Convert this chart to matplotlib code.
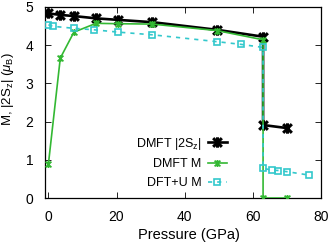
import matplotlib
matplotlib.use("Agg")
import matplotlib.pyplot as plt
from matplotlib.path import Path

plt.rcParams["font.family"] = ["Liberation Sans", "DejaVu Sans"]
plt.rcParams["mathtext.fontset"] = "custom"
plt.rcParams["mathtext.rm"] = "Liberation Sans"
plt.rcParams["mathtext.it"] = "Liberation Sans:italic"

# ── data ────────────────────────────────────────────────────────────────────
p_dmft   = [0, 3.5, 7.5, 14, 20.5, 30.5, 49.5, 63, 63, 70]
sz_dmft  = [4.83, 4.79, 4.76, 4.70, 4.66, 4.60, 4.40, 4.22, 1.91, 1.83]
m_dmft   = [0.88, 3.66, 4.34, 4.57, 4.56, 4.55, 4.38, 4.14, 0.0, 0.0]

p_dft    = [0, 1.5, 7.5, 13.5, 20.5, 30.5, 49.5, 56.5, 63, 63, 65.5, 67.5, 70, 76.5]
m_dft    = [4.53, 4.49, 4.44, 4.40, 4.34, 4.27, 4.09, 4.02, 3.94,
            0.78, 0.73, 0.72, 0.69, 0.60]

labels   = ["DMFT |2S$_\\mathrm{z}$|", "DMFT M", "DFT+U M"]
x_ticks  = [0, 20, 40, 60, 80]
y_ticks  = [0, 1, 2, 3, 4, 5]

BLACK = "#000000"
GREEN = "#33b833"
CYAN  = "#33c8cc"

# gnuplot-like "*" point: an x with a vertical bar
STAR = Path([(-1, -1), (1, 1), (-1, 1), (1, -1), (0, -1.2), (0, 1.2)],
            [Path.MOVETO, Path.LINETO, Path.MOVETO, Path.LINETO,
             Path.MOVETO, Path.LINETO])

fig = plt.figure(figsize=(3.33, 2.46), dpi=100)
ax = fig.add_axes([0.135, 0.195, 0.829, 0.777])

ax.plot(p_dmft, sz_dmft, color=BLACK, lw=1.9, marker=STAR,
        ms=7.5, mew=2.2, label=labels[0], zorder=3)
ax.plot(p_dmft, m_dmft, color=GREEN, lw=1.2, marker=STAR,
        ms=5, mew=1.3, label=labels[1], zorder=4)
ax.plot(p_dft, m_dft, color=CYAN, lw=1.2, ls=(0, (2.5, 3)), marker="s",
        ms=5, mew=1.2, mfc="none", label=labels[2], zorder=5)

ax.set_xlim(-1, 80)
ax.set_ylim(0, 5)
ax.set_xticks(x_ticks)
ax.set_yticks(y_ticks)
ax.tick_params(direction="in", top=True, right=True, length=4,
               width=0.6, labelsize=10, pad=8.5)
for s in ax.spines.values():
    s.set_linewidth(0.9)

# axis titles placed in figure pixels, as in the reference
fig.text(188.5 / 333, 1 - 239 / 246, "Pressure (GPa)", fontsize=10.5,
         ha="center", va="baseline")
fig.text(8.5 / 333, 1 - 88.5 / 246, "M, |2S$_\\mathrm{z}$| ($\\mu_\\mathrm{B}$)",
         fontsize=9.5, rotation=90, ha="center", va="center")

ax.legend(loc="lower right", bbox_to_anchor=(0.69, 0.0), frameon=False,
          markerfirst=False, fontsize=9, handlelength=1.5,
          handletextpad=0.5, labelspacing=0.55, borderaxespad=0.3)

fig.savefig("out.png", dpi=100)
